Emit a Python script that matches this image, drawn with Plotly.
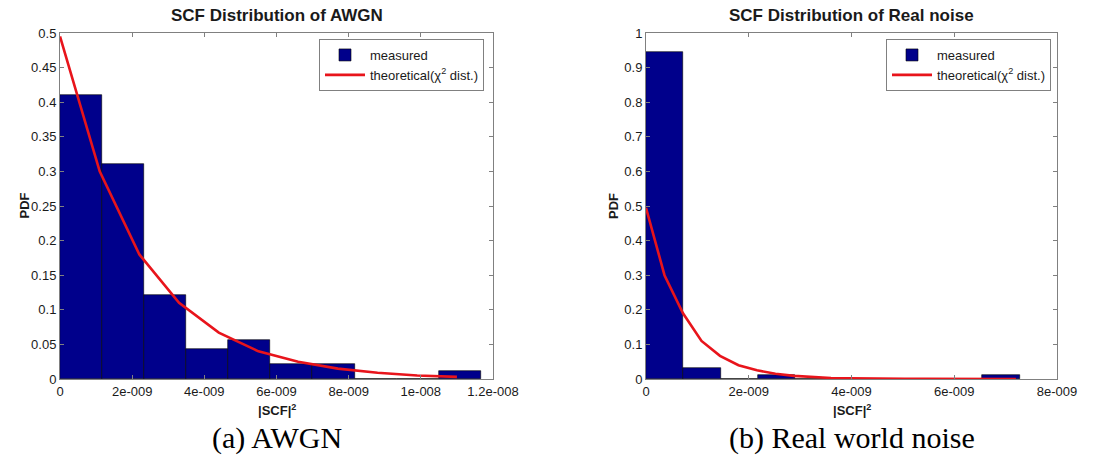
import plotly.graph_objects as go

# ---- data: left panel (AWGN) ----
awgn_bin_edges = [0, 1.166e-9, 2.332e-9, 3.498e-9, 4.664e-9, 5.83e-9, 6.996e-9,
                  8.162e-9, 9.328e-9, 10.494e-9, 11.66e-9]
awgn_pdf = [0.411, 0.311, 0.122, 0.044, 0.056, 0.022, 0.022, 0.0, 0.0, 0.011]
awgn_theory_x = [0, 1.1e-9, 2.2e-9, 3.3e-9, 4.4e-9, 5.5e-9, 6.6e-9, 7.7e-9,
                 8.8e-9, 9.9e-9, 11.0e-9]
awgn_theory_y = [0.495, 0.30, 0.18, 0.11, 0.067, 0.04, 0.025, 0.015, 0.009, 0.005, 0.003]

# ---- data: right panel (Real noise) ----
real_bin_edges = [0, 0.727e-9, 1.454e-9, 2.181e-9, 2.908e-9, 3.635e-9, 4.362e-9,
                  5.089e-9, 5.816e-9, 6.543e-9, 7.27e-9]
real_pdf = [0.944, 0.033, 0.0, 0.011, 0.0, 0.0, 0.0, 0.0, 0.0, 0.011]
real_theory_x = [0, 0.36e-9, 0.72e-9, 1.08e-9, 1.44e-9, 1.8e-9, 2.16e-9, 2.52e-9,
                 2.88e-9, 3.24e-9, 3.6e-9, 3.96e-9, 4.32e-9, 4.68e-9, 5.04e-9,
                 5.4e-9, 5.76e-9, 6.12e-9, 6.48e-9, 6.84e-9, 7.2e-9]
real_theory_y = [0.495, 0.30, 0.19, 0.11, 0.067, 0.04, 0.025, 0.015, 0.009, 0.005,
                 0.003, 0.002, 0.001, 0.001, 0.0005, 0.0003, 0.0002, 0.0001, 0.0001, 0.0, 0.0]

# ---- tick labels ----
awgn_xticks = [0, 2e-9, 4e-9, 6e-9, 8e-9, 1e-8, 1.2e-8]
awgn_xticktext = ["0", "2e-009", "4e-009", "6e-009", "8e-009", "1e-008", "1.2e-008"]
awgn_yticks = [0, 0.05, 0.1, 0.15, 0.2, 0.25, 0.3, 0.35, 0.4, 0.45, 0.5]
awgn_yticktext = ["0", "0.05", "0.1", "0.15", "0.2", "0.25", "0.3", "0.35", "0.4", "0.45", "0.5"]
real_xticks = [0, 2e-9, 4e-9, 6e-9, 8e-9]
real_xticktext = ["0", "2e-009", "4e-009", "6e-009", "8e-009"]
real_yticks = [0, 0.1, 0.2, 0.3, 0.4, 0.5, 0.6, 0.7, 0.8, 0.9, 1]
real_yticktext = ["0", "0.1", "0.2", "0.3", "0.4", "0.5", "0.6", "0.7", "0.8", "0.9", "1"]

titles = ["SCF Distribution of AWGN", "SCF Distribution of Real noise"]
captions = ["(a) AWGN", "(b) Real world noise"]

BAR = "#00008B"
RED = "#E8141B"
AX = "#808080"
TXT = "#1a1a1a"

fig = go.Figure()

def add_panel(edges, pdf, tx, ty, xa, ya, legend):
    widths = [edges[i + 1] - edges[i] for i in range(len(pdf))]
    fig.add_trace(go.Bar(
        x=edges[:-1], y=pdf, width=widths, offset=0,
        marker=dict(color=BAR, line=dict(color="#000000", width=0.6)),
        name="measured", xaxis=xa, yaxis=ya, legend=legend,
    ))
    fig.add_trace(go.Scatter(
        x=tx, y=ty, mode="lines", line=dict(color=RED, width=2.6),
        name="theoretical(χ<sup>2</sup> dist.)", xaxis=xa, yaxis=ya, legend=legend,
    ))

add_panel(awgn_bin_edges, awgn_pdf, awgn_theory_x, awgn_theory_y, "x", "y", "legend")
add_panel(real_bin_edges, real_pdf, real_theory_x, real_theory_y, "x2", "y2", "legend2")

W, H = 1109, 463
yb, yt = 1 - 379 / H, 1 - 33 / H
L1 = (60 / W, 493 / W)
L2 = (646 / W, 1057 / W)

axcommon = dict(showgrid=False, zeroline=False, showline=True, linecolor=AX, linewidth=1,
                mirror="allticks", ticks="inside", ticklen=4, tickcolor=AX, automargin=False,
                tickfont=dict(family="Liberation Sans, Arial", size=13, color=TXT))

legcommon = dict(xanchor="right", yanchor="top", bordercolor=AX, borderwidth=1,
                 bgcolor="white", font=dict(size=13, color=TXT), tracegroupgap=0,
                 itemwidth=40)

fig.update_layout(
    width=W, height=H, margin=dict(l=0, r=0, t=0, b=0, pad=0, autoexpand=False),
    paper_bgcolor="white", plot_bgcolor="white", bargap=0,
    font=dict(family="Liberation Sans, Arial", color=TXT),
    xaxis=dict(domain=L1, range=[0, 1.2e-8], tickvals=awgn_xticks, ticktext=awgn_xticktext,
               anchor="y", **axcommon),
    yaxis=dict(domain=[yb, yt], range=[0, 0.5], tickvals=awgn_yticks, ticktext=awgn_yticktext,
               anchor="x", **axcommon),
    xaxis2=dict(domain=L2, range=[0, 8e-9], tickvals=real_xticks, ticktext=real_xticktext,
                anchor="y2", **axcommon),
    yaxis2=dict(domain=[yb, yt], range=[0, 1], tickvals=real_yticks, ticktext=real_yticktext,
                anchor="x2", **axcommon),
    legend=dict(x=484 / W, y=1 - 39 / H, **legcommon),
    legend2=dict(x=1051 / W, y=1 - 39 / H, **legcommon),
    showlegend=True,
)

ann = []
for (x0, x1), t, c in zip([L1, L2], titles, captions):
    xm = (x0 + x1) / 2
    ann.append(dict(text="<b>" + t + "</b>", x=xm, y=1 - 16 / H, xref="paper", yref="paper",
                    showarrow=False, font=dict(size=17, color=TXT), xanchor="center", yanchor="middle"))
    ann.append(dict(text="<b>|SCF|<sup>2</sup></b>", x=xm, y=1 - 410 / H, xref="paper", yref="paper",
                    showarrow=False, font=dict(size=13, color=TXT), xanchor="center", yanchor="middle"))
    ann.append(dict(text=c, x=xm, y=1 - 438 / H, xref="paper", yref="paper",
                    showarrow=False, font=dict(family="Liberation Serif, Times New Roman", size=30, color="#000"),
                    xanchor="center", yanchor="middle"))
ann.append(dict(text="<b>PDF</b>", x=15 / W, y=(yb + yt) / 2, xref="paper", yref="paper",
                showarrow=False, textangle=-90, font=dict(size=13, color=TXT)))
ann.append(dict(text="<b>PDF</b>", x=614 / W, y=(yb + yt) / 2, xref="paper", yref="paper",
                showarrow=False, textangle=-90, font=dict(size=13, color=TXT)))
fig.update_layout(annotations=ann)

fig.write_html("out.html", config={"displayModeBar": False},
               post_script="document.body.style.margin='0';document.body.style.overflow='hidden';")
